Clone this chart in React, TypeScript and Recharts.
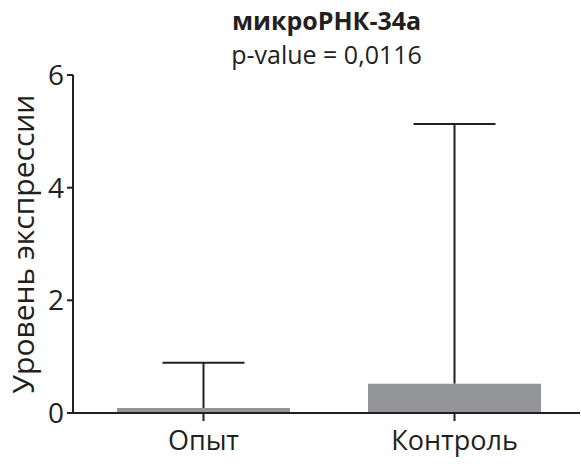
import React from "react";
import { Bar, ComposedChart, XAxis, YAxis } from "recharts";

const categories = ["Опыт", "Контроль"];
const means = [0.09, 0.52];
const upperErrors = [0.8, 4.61];
const yTicks = [0, 2, 4, 6];

const FONT = "'Open Sans', 'Noto Sans', sans-serif";
const INK = "#231f20";
const GREY = "#939598";

const data = categories.map((name, i) => ({
  name,
  mean: means[i],
  err: [means[i], means[i] + upperErrors[i]],
}));

// T-shaped upper error bar drawn from a range bar [mean, mean + err]
const ErrorShape = (props: any) => {
  const { x, y, width, height } = props;
  const cx = x + width / 2;
  const capHalf = 41;
  return (
    <g>
      <line x1={cx} x2={cx} y1={y} y2={y + height} stroke={INK} strokeWidth={2} />
      <line x1={cx - capHalf} x2={cx + capHalf} y1={y} y2={y} stroke={INK} strokeWidth={2} />
    </g>
  );
};

const App: React.FC = () => {
  return (
    <div
      style={{
        position: "absolute",
        left: 0,
        top: 0,
        width: 581,
        height: 468,
        background: "#fff",
        fontFamily: FONT,
      }}
    >
      <div
        style={{
          position: "absolute",
          left: 73,
          width: 507,
          top: 3,
          textAlign: "center",
          fontSize: 25,
          fontWeight: 700,
          color: INK,
          lineHeight: "34px",
        }}
      >
        микроРНК-34а
      </div>
      <div
        style={{
          position: "absolute",
          left: 73,
          width: 507,
          top: 37,
          textAlign: "center",
          fontSize: 25,
          color: INK,
          lineHeight: "34px",
        }}
      >
        p-value = 0,0116
      </div>
      <ComposedChart
        width={581}
        height={468}
        data={data}
        margin={{ top: 75, right: 1, bottom: 0, left: 8 }}
        barSize={173}
        barGap={-173}
      >
        <XAxis
          dataKey="name"
          axisLine={{ stroke: INK, strokeWidth: 2 }}
          tickLine={{ stroke: INK, strokeWidth: 2 }}
          tickSize={8}
          padding={{ left: 5, right: 0 }}
          tick={{ fill: INK, fontSize: 27, fontFamily: FONT }}
          tickMargin={10}
          height={55}
        />
        <YAxis
          domain={[0, 6]}
          ticks={yTicks}
          width={65}
          axisLine={{ stroke: INK, strokeWidth: 2 }}
          tickLine={{ stroke: INK, strokeWidth: 2 }}
          tickSize={6}
          tickMargin={3}
          tick={{ fill: INK, fontSize: 28, fontFamily: FONT }}
          label={{
            value: "Уровень экспрессии",
            angle: -90,
            position: "center",
            dx: -17,
            fill: INK,
            fontSize: 30,
            fontFamily: FONT,
          }}
        />
        <Bar dataKey="err" shape={<ErrorShape />} isAnimationActive={false} />
        <Bar dataKey="mean" fill={GREY} isAnimationActive={false} />
      </ComposedChart>
    </div>
  );
};

export default App;
